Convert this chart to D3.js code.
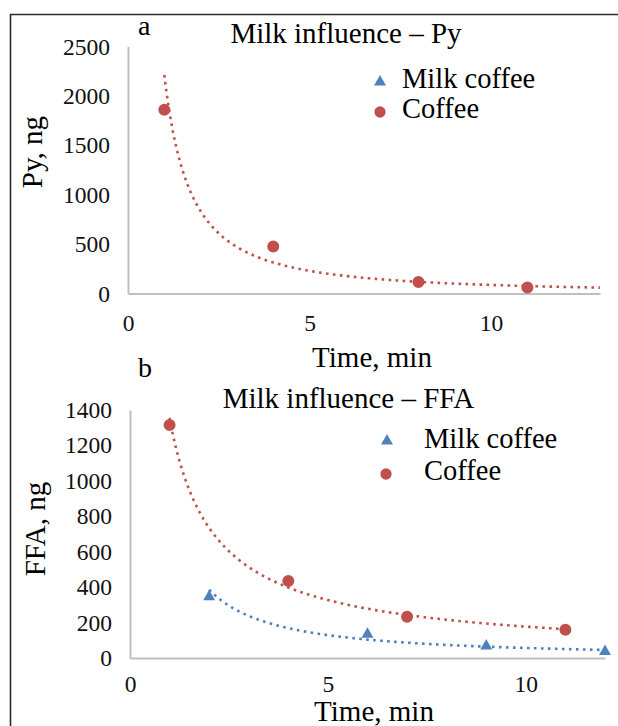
<!DOCTYPE html>
<html>
<head>
<meta charset="utf-8">
<script src="https://cdn.jsdelivr.net/npm/d3@7"></script>
<style>
  html, body { margin: 0; padding: 0; background: #fff; }
  svg { display: block; font-family: "Liberation Serif", "Times New Roman", serif; }
</style>
</head>
<body>
<svg id="fig" width="618" height="726"></svg>
<script>
// Panel a: pyrazines (Py) released over time
const timeA = [1, 4, 8, 11];
const coffeeA = [1860, 475, 117, 60];
const milkCoffeeA = [];          // no Py measurements for milk coffee
const yTicksA = [0, 500, 1000, 1500, 2000, 2500];
const xTicksA = [0, 5, 10];

// Panel b: free fatty acids (FFA) released over time
const timeCoffeeB = [1, 4, 7, 11];
const coffeeB = [1315, 435, 233, 160];
const timeMilkB = [2, 6, 9, 12];
const milkCoffeeB = [346, 134, 68, 37];
const yTicksB = [0, 200, 400, 600, 800, 1000, 1200, 1400];
const xTicksB = [0, 5, 10];

const seriesNames = ["Milk coffee", "Coffee"];
const RED = "#C0504D", BLUE = "#4F81BD", AXIS = "#BFBFBF";
const SERIF = "Liberation Serif, Times New Roman, serif";

const svg = d3.select("#fig");
svg.append("rect").attr("width", 618).attr("height", 726).attr("fill", "#fff");

// frame around the figure
svg.append("path")
  .attr("d", "M10.5,800 L10.5,14.5 L640,14.5")
  .attr("fill", "none").attr("stroke", "#2b2b2b").attr("stroke-width", 1.6);

// least-squares power fit y = a * x^b (log-log regression)
function powerFit(xs, ys) {
  const lx = xs.map(Math.log), ly = ys.map(Math.log);
  const mx = d3.mean(lx), my = d3.mean(ly);
  const b = d3.sum(lx, (v, i) => (v - mx) * (ly[i] - my)) / d3.sum(lx, v => (v - mx) ** 2);
  const a = Math.exp(my - b * mx);
  return x => a * Math.pow(x, b);
}

function panel(cfg) {
  const g = svg.append("g");
  const x = d3.scaleLinear().domain(cfg.xDomain).range([cfg.left, cfg.right]);
  const y = d3.scaleLinear().domain(cfg.yDomain).range([cfg.bottom, cfg.top]);
  const fmt = d3.format("d");

  const yAxis = g.append("g").attr("transform", `translate(${cfg.left},0)`)
    .call(d3.axisLeft(y).tickValues(cfg.yTicks).tickFormat(fmt).tickSize(0).tickPadding(18).tickSizeOuter(0));
  const xAxis = g.append("g").attr("transform", `translate(0,${cfg.bottom})`)
    .call(d3.axisBottom(x).tickValues(cfg.xTicks).tickFormat(fmt).tickSize(0).tickPadding(cfg.xPad).tickSizeOuter(0));
  [yAxis, xAxis].forEach(ax => {
    ax.attr("font-family", SERIF).attr("font-size", 23.5);
    ax.select(".domain").attr("stroke", AXIS).attr("stroke-width", 2);
    ax.selectAll("text").attr("fill", "#111");
  });

  // trend lines
  const line = d3.line().x(d => x(d[0])).y(d => y(d[1]));
  cfg.series.forEach(s => {
    if (!s.t.length) return;
    const f = powerFit(s.t, s.v);
    const x0 = d3.min(s.t), x1 = d3.max(s.t) + (s.forward || 0);
    const pts = d3.range(0, 201).map(i => { const xv = x0 + (x1 - x0) * i / 200; return [xv, f(xv)]; });
    g.append("path").attr("d", line(pts)).attr("fill", "none")
      .attr("stroke", s.color).attr("stroke-width", 2.6)
      .attr("stroke-dasharray", "2.6,4.4");
  });

  // markers
  cfg.series.forEach(s => {
    const sym = d3.symbol().type(s.shape).size(s.shape === d3.symbolCircle ? 113 : 62);
    g.selectAll(null).data(s.t.map((t, i) => [t, s.v[i]])).join("path")
      .attr("d", sym).attr("fill", s.color)
      .attr("transform", d => `translate(${x(d[0])},${y(d[1])})`);
  });

  // titles
  g.append("text").attr("x", cfg.tag[0]).attr("y", cfg.tag[1]).attr("font-size", 28).text(cfg.tagText);
  g.append("text").attr("x", cfg.title[0]).attr("y", cfg.title[1]).attr("text-anchor", "middle")
    .attr("font-size", 29).text(cfg.titleText);
  g.append("text").attr("x", cfg.xTitle[0]).attr("y", cfg.xTitle[1]).attr("text-anchor", "middle")
    .attr("font-size", 29).text("Time, min");
  g.append("text").attr("text-anchor", "middle").attr("font-size", 29)
    .attr("transform", `translate(${cfg.yTitle[0]},${cfg.yTitle[1]}) rotate(-90)`).text(cfg.yTitleText);

  // legend
  const lg = g.append("g");
  seriesNames.forEach((name, i) => {
    const s = cfg.series[i];
    const sym = d3.symbol().type(s.shape).size(s.shape === d3.symbolCircle ? 100 : 62);
    lg.append("path").attr("d", sym).attr("fill", s.color)
      .attr("transform", `translate(${cfg.legend.mx[i]},${cfg.legend.my[i]})`);
    lg.append("text").attr("x", cfg.legend.tx).attr("y", cfg.legend.ty[i]).attr("font-size", 28.5).text(name);
  });
}

panel({
  left: 128, right: 600, top: 46.5, bottom: 293.5,
  xDomain: [0, 13], yDomain: [0, 2500], xTicks: xTicksA, yTicks: yTicksA, xPad: 21,
  series: [
    { t: [], v: milkCoffeeA, color: BLUE, shape: d3.symbolTriangle },
    { t: timeA, v: coffeeA, color: RED, shape: d3.symbolCircle, forward: 2 }
  ],
  tag: [138, 35], tagText: "a",
  title: [346, 43], titleText: "Milk influence \u2013 Py",
  xTitle: [372, 367],
  yTitle: [42, 152], yTitleText: "Py, ng",
  legend: { mx: [380, 380], my: [82, 112], tx: 402, ty: [88, 118] }
});

panel({
  left: 130, right: 605, top: 410, bottom: 658,
  xDomain: [0, 12], yDomain: [0, 1400], xTicks: xTicksB, yTicks: yTicksB, xPad: 17,
  series: [
    { t: timeMilkB, v: milkCoffeeB, color: BLUE, shape: d3.symbolTriangle },
    { t: timeCoffeeB, v: coffeeB, color: RED, shape: d3.symbolCircle }
  ],
  tag: [138, 377], tagText: "b",
  title: [348.5, 408], titleText: "Milk influence \u2013 FFA",
  xTitle: [374, 721],
  yTitle: [45, 529], yTitleText: "FFA, ng",
  legend: { mx: [387, 386], my: [441, 474], tx: 424, ty: [448, 480] }
});
</script>
</body>
</html>
